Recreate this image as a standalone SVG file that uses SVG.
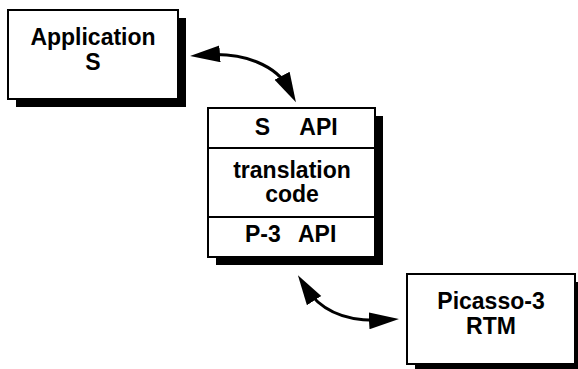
<svg xmlns="http://www.w3.org/2000/svg" width="578" height="369" viewBox="0 0 578 369">
  <style>
    .box { fill: #ffffff; stroke: #000000; stroke-width: 2; }
    .shadow { fill: #000000; }
    .div { stroke: #000000; stroke-width: 2; }
    .lbl { font-family: "Liberation Sans", Arial, Helvetica, sans-serif; font-weight: bold; font-size: 23px; fill: #000000; text-anchor: middle; }
    .conn { fill: none; stroke: #000000; stroke-width: 3; marker-start: url(#head); marker-end: url(#head); }
  </style>
  <defs>
    <marker id="head" markerUnits="userSpaceOnUse" markerWidth="32" markerHeight="18" refX="15" refY="8.5" orient="auto-start-reverse" viewBox="0 0 32 18">
      <path d="M0,0 L30,8.5 L0,17 z" fill="#000000"/>
    </marker>
  </defs>
  <rect width="578" height="369" fill="#ffffff"/>

  <g id="app">
    <rect class="shadow" x="16" y="18" width="170" height="89"/>
    <rect class="box" x="8" y="10" width="170" height="89"/>
    <text class="lbl" x="93" y="45">Application</text>
    <text class="lbl" x="93" y="70">S</text>
  </g>

  <g id="stack">
    <rect class="shadow" x="216" y="116" width="167" height="149"/>
    <rect class="box" x="208" y="108" width="167" height="149"/>
    <line class="div" x1="208" y1="148" x2="375" y2="148"/>
    <line class="div" x1="208" y1="217" x2="375" y2="217"/>
    <text class="lbl" y="135"><tspan x="262.5">S</tspan><tspan x="318.5">API</tspan></text>
    <text class="lbl" x="292" y="178">translation</text>
    <text class="lbl" x="292" y="202">code</text>
    <text class="lbl" y="242" style="text-anchor:start"><tspan x="245">P-3</tspan><tspan x="298">API</tspan></text>
  </g>

  <g id="rtm">
    <rect class="shadow" x="415" y="282" width="168" height="90"/>
    <rect class="box" x="407" y="274" width="168" height="90"/>
    <text class="lbl" x="491" y="309">Picasso-3</text>
    <text class="lbl" x="491" y="334">RTM</text>
  </g>

  <g id="connectors">
    <path class="conn" d="M205,55 C245,52 277,66 289,89"/>
    <path class="conn" d="M306,288 C322,313 350,322 384,320"/>
  </g>
</svg>
